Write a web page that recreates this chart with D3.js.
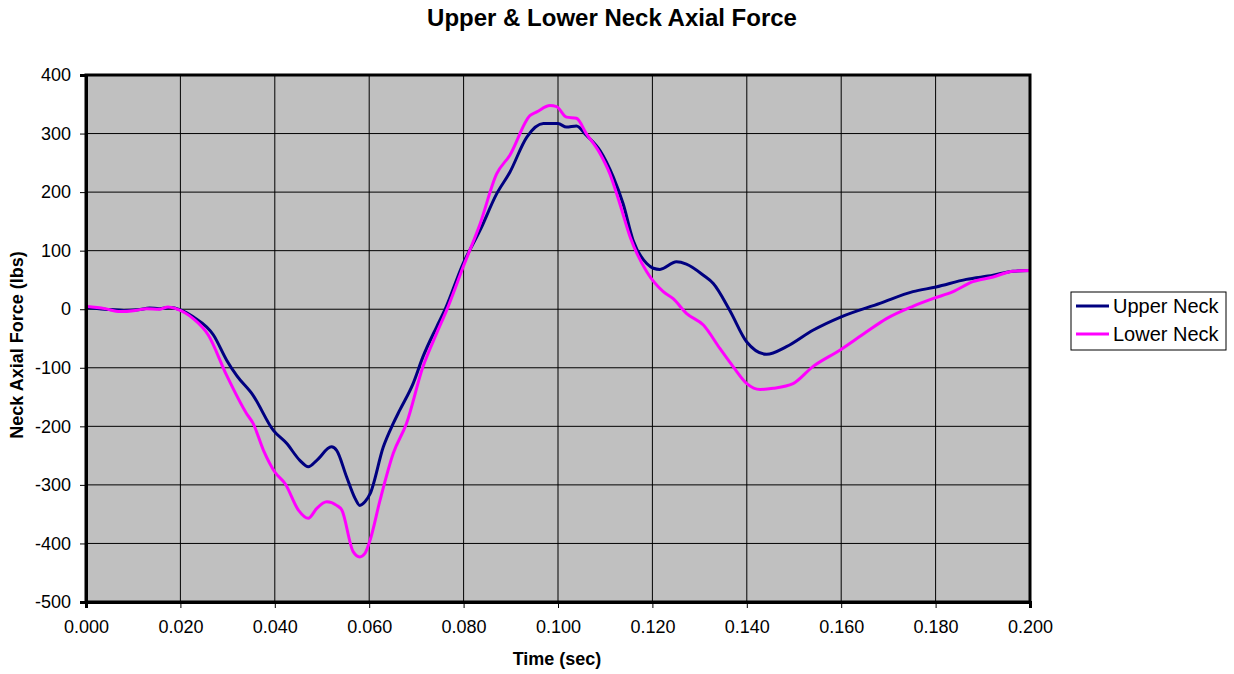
<!DOCTYPE html>
<html>
<head>
<meta charset="utf-8">
<script src="https://cdn.jsdelivr.net/npm/d3@7"></script>
<style>
  body { margin: 0; background: #fff; }
  svg { font-family: Arial, "Liberation Sans", sans-serif; }
</style>
</head>
<body>
<div id="chart"></div>
<script>
// values
const upperT = [0, 0.004, 0.008, 0.011, 0.0135, 0.0155, 0.0178, 0.020, 0.0227, 0.027, 0.0298, 0.0319, 0.0354, 0.0397, 0.0425, 0.0453, 0.0471, 0.0489, 0.052, 0.0531, 0.0552, 0.057, 0.058, 0.0591, 0.0602, 0.063, 0.0651, 0.0665, 0.0693, 0.0714, 0.0743, 0.0761, 0.0799, 0.0835, 0.087, 0.0898, 0.0934, 0.0969, 0.100, 0.1018, 0.1039, 0.106, 0.1089, 0.1117, 0.1138, 0.1159, 0.1188, 0.1202, 0.1216, 0.1251, 0.1272, 0.1308, 0.1329, 0.1364, 0.140, 0.1442, 0.1484, 0.154, 0.160, 0.1682, 0.1752, 0.1801, 0.1865, 0.1922, 0.1964, 0.200];
const upperV = [3, 0, -2, -1, 2, 1, 3, -1, -13, -44, -87, -113, -147, -207, -229, -258, -269, -258, -235, -241, -286, -323, -335, -329, -315, -235, -195, -172, -127, -81, -30, 0, 78, 135, 197, 234, 294, 317, 317, 311, 313, 297, 271, 226, 180, 118, 78, 70, 68, 81, 77, 58, 44, -2, -56, -77, -64, -36, -13, 10, 30, 38, 51, 58, 65, 66];

const lowerT = [0, 0.004, 0.0072, 0.0105, 0.0128, 0.0155, 0.0174, 0.019, 0.0227, 0.0259, 0.0298, 0.034, 0.0354, 0.0376, 0.040, 0.0422, 0.045, 0.0471, 0.0489, 0.051, 0.0531, 0.0542, 0.0566, 0.058, 0.0591, 0.0602, 0.0623, 0.0651, 0.0679, 0.0714, 0.0743, 0.0764, 0.0799, 0.0835, 0.087, 0.0898, 0.0941, 0.0955, 0.0983, 0.0997, 0.1018, 0.1039, 0.106, 0.1089, 0.111, 0.1131, 0.1153, 0.1188, 0.1223, 0.1244, 0.1272, 0.1308, 0.1343, 0.1371, 0.140, 0.1428, 0.1456, 0.1498, 0.154, 0.1597, 0.1653, 0.1696, 0.1752, 0.1794, 0.1837, 0.1879, 0.1922, 0.1964, 0.200];
const lowerV = [5, 1, -4, -2, 1, 0, 4, 1, -16, -44, -113, -178, -195, -241, -278, -298, -343, -357, -340, -329, -335, -343, -414, -423, -417, -394, -326, -246, -195, -98, -41, -2, 72, 146, 231, 263, 331, 337, 348, 346, 328, 326, 300, 266, 231, 180, 123, 64, 30, 18, -7, -27, -67, -98, -127, -137, -135, -127, -98, -70, -39, -16, 5, 18, 30, 47, 55, 65, 66];

const xTicks = [0, 0.02, 0.04, 0.06, 0.08, 0.10, 0.12, 0.14, 0.16, 0.18, 0.20];
const yTicks = [-500, -400, -300, -200, -100, 0, 100, 200, 300, 400];

const series = [
  { name: "Upper Neck", color: "#000080", t: upperT, v: upperV },
  { name: "Lower Neck", color: "#FF00FF", t: lowerT, v: lowerV }
];

const W = 1234, H = 674;
const pL = 86, pR = 1030, pT = 75, pB = 602;

const svg = d3.select("#chart").append("svg")
  .attr("width", W)
  .attr("height", H);

const x = d3.scaleLinear().domain([0, 0.2]).range([pL, pR]);
const y = d3.scaleLinear().domain([-500, 400]).range([pB, pT]);

// plot background
svg.append("rect")
  .attr("x", pL).attr("y", pT)
  .attr("width", pR - pL).attr("height", pB - pT)
  .attr("fill", "#C0C0C0");

// grid
svg.append("g").selectAll("line")
  .data(xTicks.slice(1, -1))
  .join("line")
  .attr("x1", d => x(d)).attr("x2", d => x(d))
  .attr("y1", pT).attr("y2", pB)
  .attr("stroke", "#000").attr("stroke-width", 1);

svg.append("g").selectAll("line")
  .data(yTicks.slice(1, -1))
  .join("line")
  .attr("x1", pL).attr("x2", pR)
  .attr("y1", d => y(d)).attr("y2", d => y(d))
  .attr("stroke", "#000").attr("stroke-width", 1);

// lines
const line = d3.line()
  .x(d => x(d[0]))
  .y(d => y(d[1]))
  .curve(d3.curveMonotoneX);

series.forEach(s => {
  svg.append("path")
    .datum(d3.zip(s.t, s.v))
    .attr("d", line)
    .attr("fill", "none")
    .attr("stroke", s.color)
    .attr("stroke-width", 3)
    .attr("stroke-linejoin", "round");
});

// frame
svg.append("rect")
  .attr("x", pL).attr("y", pT)
  .attr("width", pR - pL).attr("height", pB - pT)
  .attr("fill", "none").attr("stroke", "#000").attr("stroke-width", 3);

// axes
const xAxis = svg.append("g")
  .attr("transform", `translate(0,${pB})`)
  .call(d3.axisBottom(x).tickValues(xTicks).tickFormat(d3.format(".3f")).tickSize(6).tickPadding(10));
const yAxis = svg.append("g")
  .attr("transform", `translate(${pL},0)`)
  .call(d3.axisLeft(y).tickValues(yTicks).tickFormat(d => String(d)).tickSize(6).tickPadding(9));

[xAxis, yAxis].forEach(g => {
  g.select(".domain").attr("stroke", "#000").attr("stroke-width", 3);
  g.selectAll(".tick line").attr("stroke", "#000").attr("stroke-width", 1);
  g.selectAll("text").attr("font-size", 18).attr("fill", "#000")
    .attr("font-family", "Arial, 'Liberation Sans', sans-serif");
});
xAxis.selectAll("text").attr("dy", null).attr("y", 31);

// title & axis labels
svg.append("text")
  .attr("x", 612).attr("y", 26)
  .attr("text-anchor", "middle")
  .attr("font-size", 24).attr("font-weight", "bold")
  .text("Upper & Lower Neck Axial Force");

svg.append("text")
  .attr("x", 557).attr("y", 665)
  .attr("text-anchor", "middle")
  .attr("font-size", 18).attr("font-weight", "bold")
  .text("Time (sec)");

svg.append("text")
  .attr("transform", `translate(23,345) rotate(-90)`)
  .attr("text-anchor", "middle")
  .attr("font-size", 18).attr("font-weight", "bold")
  .text("Neck Axial Force (lbs)");

// legend
const lg = svg.append("g").attr("transform", "translate(1071,292)");
lg.append("rect")
  .attr("width", 155).attr("height", 58)
  .attr("fill", "#fff").attr("stroke", "#000").attr("stroke-width", 1);
series.forEach((s, i) => {
  const yy = 14 + i * 28;
  lg.append("line")
    .attr("x1", 5).attr("x2", 38)
    .attr("y1", yy).attr("y2", yy)
    .attr("stroke", s.color).attr("stroke-width", 3);
  lg.append("text")
    .attr("x", 42).attr("y", yy + 7)
    .attr("font-size", 20)
    .text(s.name);
});
</script>
</body>
</html>
